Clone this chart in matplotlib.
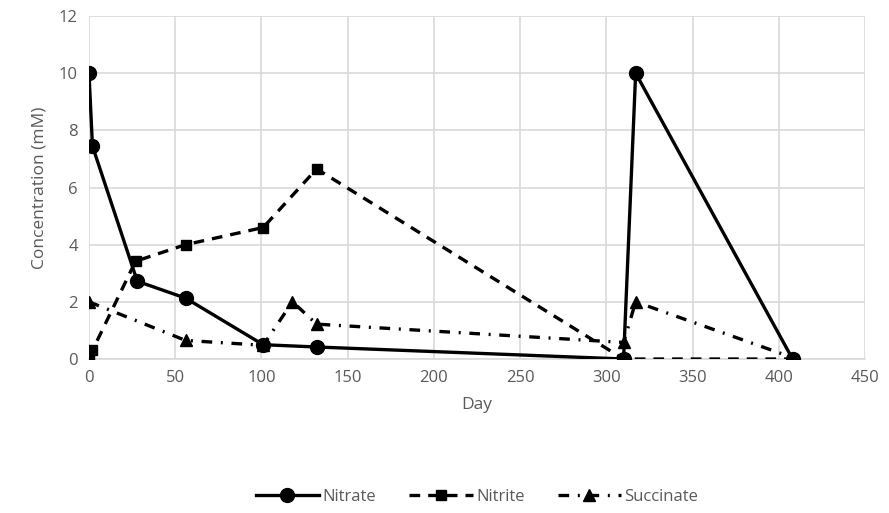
import matplotlib.pyplot as plt
from matplotlib.ticker import MultipleLocator

plt.rcParams['font.family'] = ['Open Sans', 'DejaVu Sans']

# Data
nitrate_day = [0, 2, 28, 56, 101, 132, 310, 317, 408]
nitrate = [10.0, 7.45, 2.72, 2.13, 0.5, 0.42, 0.0, 10.0, 0.0]

nitrite_day = [0, 2, 27, 56, 101, 132, 310, 408]
nitrite = [0.05, 0.3, 3.42, 4.0, 4.6, 6.65, 0.0, 0.0]

succinate_day = [0, 56, 101, 118, 132, 310, 317, 408]
succinate = [2.0, 0.65, 0.48, 2.0, 1.22, 0.58, 2.0, 0.05]

# Figure
fig = plt.figure(figsize=(8.89, 5.13), dpi=100)
ax = fig.add_axes([89/889, 1 - 359/513, 776/889, 343/513])

ax.plot(nitrate_day, nitrate, color='k', marker='o', markersize=10,
        linestyle='solid', linewidth=2.4, label='Nitrate', zorder=3)
ax.plot(nitrite_day, nitrite, color='k', marker='s', markersize=7.5,
        linestyle=(0, (3.2, 2.4)), linewidth=2.4, label='Nitrite', zorder=3)
ax.plot(succinate_day, succinate, color='k', marker='^', markersize=9,
        linestyle=(0, (3.2, 2.6, 0.6, 2.6)), linewidth=2.4, label='Succinate', zorder=3)

ax.set_xlim(0, 450)
ax.set_ylim(0, 12)
ax.xaxis.set_major_locator(MultipleLocator(50))
ax.yaxis.set_major_locator(MultipleLocator(2))

ax.grid(True, color='#d9d9d9', linewidth=1.2)
ax.set_axisbelow(True)
for s in ['top', 'right', 'left']:
    ax.spines[s].set_visible(False)
ax.spines['bottom'].set_color('#d9d9d9')
ax.spines['bottom'].set_linewidth(1.2)

ax.tick_params(axis='both', length=0, labelsize=12, labelcolor='#595959', pad=8)

ax.set_xlabel('Day', fontsize=12.5, color='#595959', labelpad=8)
ax.set_ylabel('Concentration (mM)', fontsize=12.5, color='#595959', labelpad=8)

ax.legend(loc='center', bbox_to_anchor=(0.5, (1 - 497/513 - (1 - 359/513)) / (343/513)),
          ncol=3, frameon=False, fontsize=12, handlelength=3.8, handletextpad=0.2,
          columnspacing=2.0, labelcolor='#595959')

fig.savefig('out.png', dpi=100)
